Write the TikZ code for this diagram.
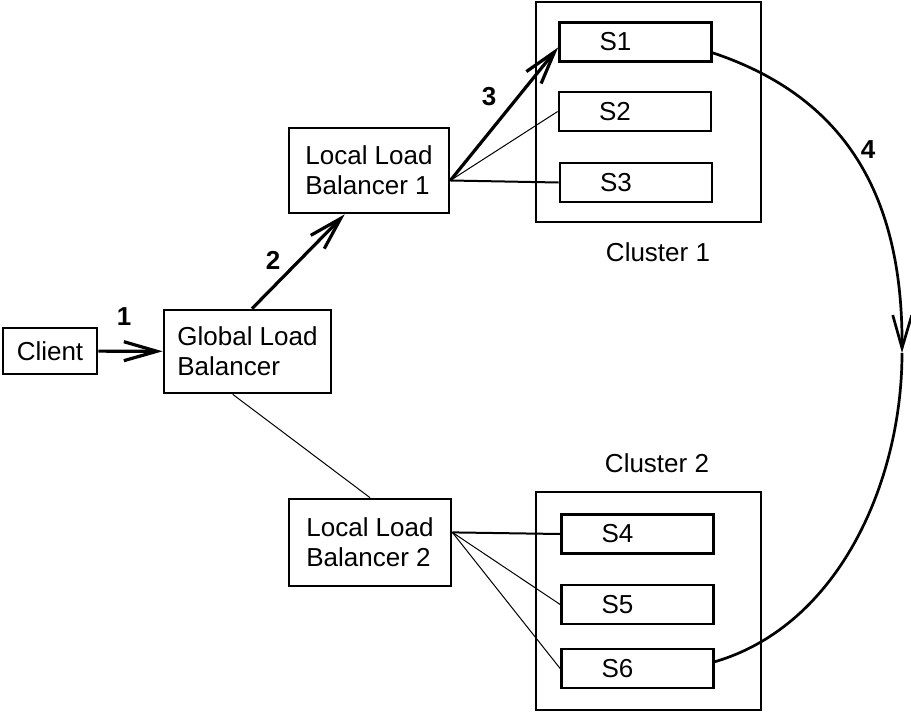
\documentclass[tikz,border=0pt]{standalone}
\usepackage{fontspec}
\setmainfont{Liberation Sans}
\usetikzlibrary{arrows.meta}

\begin{document}
\begin{tikzpicture}[x=1pt,y=-1pt,
	font=\fontsize{26}{30}\selectfont,
	box/.style={draw,line width=2.7pt,align=left,inner xsep=0pt},
	srv/.style={draw,line width=2.7pt,minimum width=152pt,minimum height=39pt,
		text width=72pt,inner xsep=40pt,inner ysep=0pt,align=left},
	cluster/.style={draw,line width=2.7pt},
	num/.style={font=\fontsize{26}{30}\selectfont\bfseries},
	flow/.style={line width=3.2pt,-{Straight Barb[length=33pt,width=19pt]}},
	link/.style={line width=1pt}]
\useasboundingbox (0,0) rectangle (911,713);

% clusters
\node[cluster,minimum width=225pt,minimum height=220pt] (cl1) at (648.5,112) {};
\node[cluster,minimum width=225pt,minimum height=218pt] (cl2) at (648.5,601) {};
\node (lab1) at (658,252) {Cluster 1};
\node (lab2) at (657,463) {Cluster 2};

% balancers
\node[box,minimum width=94pt,minimum height=46pt] (client) at (50,351) {Client};
\node[box,minimum width=167pt,minimum height=83pt] (glb) at (247.5,351.5) {Global Load\\Balancer};
\node[box,minimum width=160pt,minimum height=85pt] (llb1) at (369,170.5) {Local Load\\Balancer 1};
\node[box,minimum width=162pt,minimum height=87pt] (llb2) at (370,542.5) {Local Load\\Balancer 2};

% servers
\node[srv] (s1) at (635.5,42) {S1};
\node[srv] (s2) at (635,111.5) {S2};
\node[srv] (s3) at (636,182.5) {S3};
\node[srv] (s4) at (637.5,534) {S4};
\node[srv] (s5) at (637.5,604.5) {S5};
\node[srv] (s6) at (637.5,668.5) {S6};

% steps
\node[num] (n1) at (124,317) {1};
\node[num] (n2) at (273,260) {2};
\node[num] (n3) at (489,97) {3};
\node[num] (n4) at (868,150) {4};

\draw[flow] (client) -- (glb);
\draw[flow] (glb.84) -- (llb1.241);
\draw[flow] (llb1.-7) -- (s1.184);
\draw[link] (llb1.-7) -- (s2.west);
\draw[link,line width=2pt] (llb1.-7) -- (s3.west);
\draw[link] (glb.251) -- (llb2.north);
\draw[link,line width=2pt] (llb2.7) -- (s4.west);
\draw[link] (llb2.7) -- (s5.west);
\draw[link] (llb2.7) -- (s6.west);

\coordinate (turn) at (902,353);
\draw[flow,line width=2.7pt] (s1.-8) .. controls (845,97) and (903,195) .. (turn);
\draw[line width=2.7pt] (turn) .. controls (902,480) and (840,625) .. (s6.5);
\end{tikzpicture}
\end{document}
